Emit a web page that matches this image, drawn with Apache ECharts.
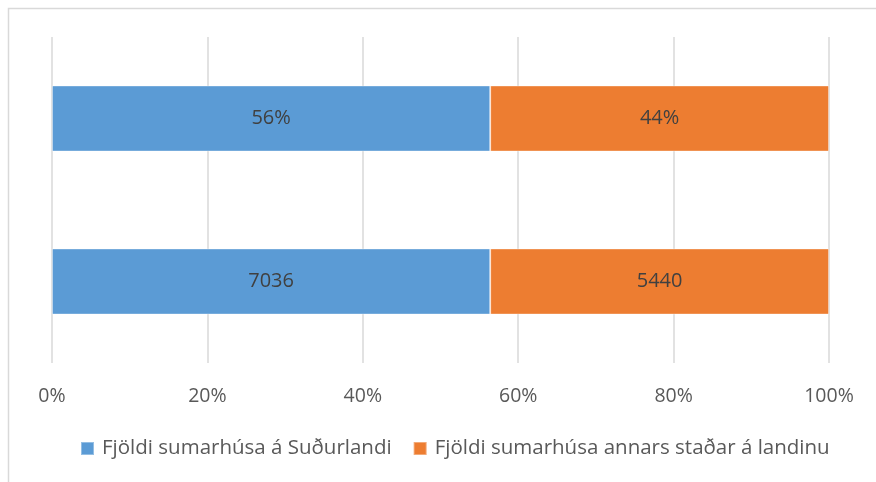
<!DOCTYPE html>
<html>
<head>
<meta charset="utf-8">
<script src="https://cdn.jsdelivr.net/npm/echarts@6/dist/echarts.min.js"></script>
<style>
  html, body { margin: 0; padding: 0; background: #fff; }
  #chart { width: 876px; height: 482px; }
</style>
</head>
<body>
<div id="chart"></div>
<script>
// gögn
var categories = ['Fjöldi', 'Hlutfall'];
var seriesNames = ['Fjöldi sumarhúsa á Suðurlandi', 'Fjöldi sumarhúsa annars staðar á landinu'];
var counts = [7036, 5440];
var percentLabels = ['56%', '44%'];
var xTicks = [0, 20, 40, 60, 80, 100];

var total = counts[0] + counts[1];
var colors = ['#5B9BD5', '#ED7D31'];
var font = 'Open Sans';

var myChart = echarts.init(document.getElementById('chart'));

var series = seriesNames.map(function (name, i) {
    var share = counts[i] / total * 100;
    return {
        name: name,
        type: 'bar',
        stack: 'total',
        barWidth: 66,
        data: [share, share],
        itemStyle: { color: colors[i], borderColor: 'rgba(255,255,255,0.35)', borderWidth: 1 },
        label: {
            show: true,
            position: 'inside',
            color: '#404040',
            fontFamily: font,
            fontSize: 20,
            formatter: function (p) {
                return p.dataIndex === 0 ? String(counts[i]) : percentLabels[i];
            }
        }
    };
});

option = {
    animation: false,
    graphic: [{
        type: 'rect',
        shape: { x: 8.5, y: 8.5, width: 880, height: 490 },
        style: { fill: 'none', stroke: '#d9d9d9', lineWidth: 1.5 }
    }],
    grid: { left: 52, right: 47, top: 37, bottom: 119 },
    legend: {
        top: 433,
        left: 75,
        itemWidth: 13,
        itemHeight: 13,
        itemGap: 21,
        icon: 'rect',
        textStyle: { color: '#595959', fontFamily: font, fontSize: 20.5, padding: [0, 0, 0, 3] }
    },
    xAxis: {
        type: 'value',
        min: 0,
        max: 100,
        interval: 20,
        axisLine: { show: false },
        axisTick: { show: false },
        splitLine: { lineStyle: { color: '#d9d9d9', width: 1.5 } },
        axisLabel: {
            color: '#595959',
            fontFamily: font,
            fontSize: 19.5,
            margin: 23,
            formatter: function (v) { return xTicks.indexOf(v) >= 0 ? v + '%' : ''; }
        }
    },
    yAxis: {
        type: 'category',
        data: categories,
        axisLine: { show: false },
        axisTick: { show: false },
        axisLabel: { show: false }
    },
    series: series
};

myChart.setOption(option);
</script>
</body>
</html>
